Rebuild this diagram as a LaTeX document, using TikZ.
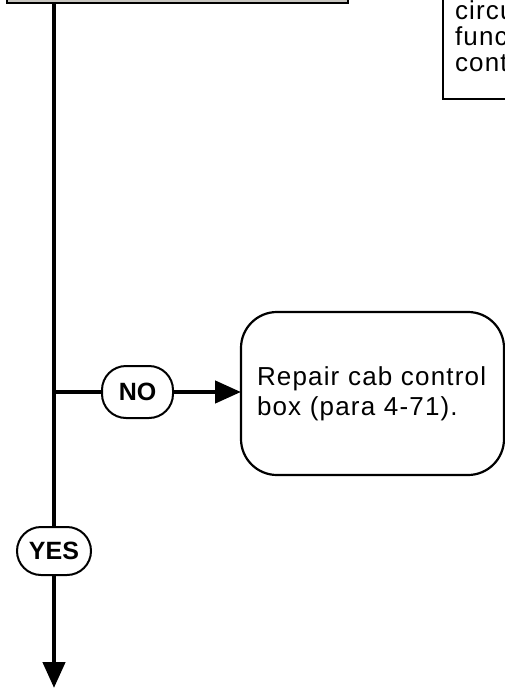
\documentclass[tikz,border=0pt]{standalone}
\usepackage{fontspec}
\setmainfont{Liberation Sans}
\newfontfamily\bodyfont[LetterSpace=4.5]{Liberation Sans}
\usetikzlibrary{arrows.meta}
\definecolor{boxgray}{RGB}{200,198,192}
\begin{document}
\begin{tikzpicture}[x=1pt,y=-1pt,
  flow/.style={line width=4.5pt},
  pill/.style={draw,line width=2pt,fill=white,rounded corners=24pt,inner sep=0pt,
    font=\fontsize{25}{27}\selectfont\bfseries},
  stepbox/.style={draw,line width=2.2pt,fill=white,outer sep=0pt},
  tip/.style={-{Triangle[length=26pt,width=22pt]}}]
\useasboundingbox (0,0) rectangle (505,688);
\clip (0,0) rectangle (505,688);
% top box (cut off)
\node[stepbox,fill=boxgray,anchor=south west,minimum width=341pt,minimum height=60pt] (top) at (7,3) {};
% right box (cut off)
\node[stepbox,line width=2pt,anchor=south west,align=left,inner xsep=12pt,inner ysep=27pt,
  text width=96pt,font=\bodyfont\fontsize{26}{26}\selectfont] (note) at (443,99) {circu\\func\\cont};
% repair box
\node[stepbox,rounded corners=36pt,anchor=north west,minimum width=263pt,minimum height=163pt,
  text width=231pt,inner xsep=16pt,align=left,font=\bodyfont\fontsize{26}{30}\selectfont] (repair) at (241,312)
  {Repair cab control\\box (para 4-71).};
% labels
\node[pill,minimum width=71pt,minimum height=52pt] (no) at (137.5,392) {NO};
\node[pill,minimum width=74pt,minimum height=48pt] (yes) at (54,551) {YES};
\coordinate (j) at (54,392);
\coordinate (end) at (54,688);
% connectors
\draw[flow] (top.south -| j) -- (yes.north);
\draw[flow,tip] (yes.south) -- (end);
\draw[flow] (j) -- (no.west);
\draw[flow,tip] (no.east) -- (no.east -| repair.west);
\end{tikzpicture}
\end{document}
